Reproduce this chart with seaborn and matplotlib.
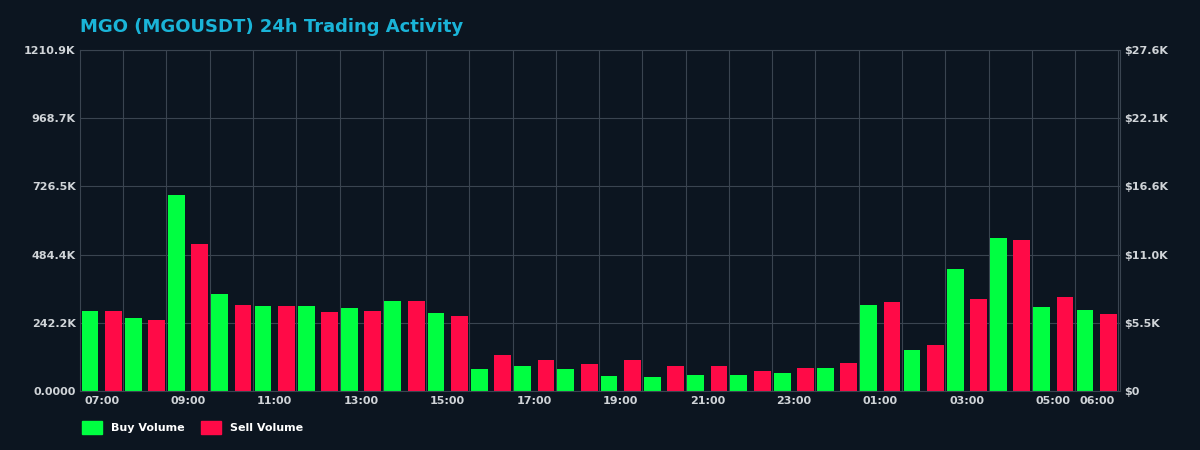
import matplotlib
matplotlib.use("Agg")
import matplotlib.pyplot as plt
import matplotlib.patches as mpatches
import seaborn as sns
import pandas as pd
import numpy as np

hours = ["07:00", "08:00", "09:00", "10:00", "11:00", "12:00", "13:00", "14:00",
         "15:00", "16:00", "17:00", "18:00", "19:00", "20:00", "21:00", "22:00",
         "23:00", "00:00", "01:00", "02:00", "03:00", "04:00", "05:00", "06:00"]
buy_k = [284, 259, 696, 344, 302, 302, 295, 320, 277, 78, 89, 78,
         53, 50, 57, 57, 64, 82, 305, 146, 433, 543, 298, 288]
sell_k = [284, 252, 522, 305, 302, 281, 284, 320, 266, 128, 110, 96,
          110, 89, 89, 71, 82, 99, 316, 163, 327, 536, 334, 273]

BG = "#0c1520"
GREEN = "#00ff41"
RED = "#ff0a47"
TXT = "#d0d4d8"

df = pd.DataFrame({
    "hour": hours * 2,
    "vol": buy_k + sell_k,
    "side": ["Buy Volume"] * 24 + ["Sell Volume"] * 24,
})

sns.set_style("dark")
plt.rcParams["font.family"] = ["DejaVu Sans"]

fig = plt.figure(figsize=(12, 4.5), dpi=100, facecolor=BG)
ax = fig.add_axes([0.067, 0.131, 0.866, 0.758])
ax.set_facecolor(BG)

sns.barplot(data=df, x="hour", y="vol", hue="side", order=hours,
            palette={"Buy Volume": GREEN, "Sell Volume": RED},
            width=1.08, gap=0.28, dodge=True, legend=False, ax=ax,
            saturation=1, linewidth=0)

ymax = 1210.9
ax.set_ylim(0, ymax)
ax.set_xlim(-0.49, 23.53)
yt = np.linspace(0, ymax, 6)
ax.set_yticks(yt)
ax.set_yticklabels(["0.0000"] + [f"{v:.1f}K" for v in yt[1:]])

xt = list(range(0, 23, 2)) + [23]
ax.set_xticks(xt)
ax.set_xticklabels([hours[i] for i in xt])
for i in range(24):
    ax.axvline(i + 0.5, color="#3a4450", lw=0.8, zorder=0)
for v in yt[1:]:
    ax.axhline(v, color="#3a4450", lw=0.8, zorder=0)
ax.grid(False)
ax.set_xlabel("")
ax.set_ylabel("")
ax.tick_params(colors=TXT, labelsize=8, length=0)
for lab in ax.get_xticklabels() + ax.get_yticklabels():
    lab.set_fontweight("bold")
for s in ax.spines.values():
    s.set_color("#3a4450")

ax2 = ax.twinx()
ax2.set_ylim(0, 27.6)
rt = np.linspace(0, 27.6, 6)
ax2.set_yticks(rt)
ax2.set_yticklabels(["$0"] + [f"${v:.1f}K" for v in rt[1:]])
ax2.tick_params(colors=TXT, labelsize=8, length=0)
for lab in ax2.get_yticklabels():
    lab.set_fontweight("bold")
for s in ax2.spines.values():
    s.set_visible(False)

fig.text(0.067, 0.94, "MGO (MGOUSDT) 24h Trading Activity", color="#1ab4d8",
         fontsize=13, fontweight="bold", va="center")

handles = [mpatches.Patch(color=GREEN, label="Buy Volume"),
           mpatches.Patch(color=RED, label="Sell Volume")]
leg = fig.legend(handles=handles, loc="center left", bbox_to_anchor=(0.06, 0.05),
                 ncol=2, frameon=False, fontsize=8, handlelength=1.8,
                 handleheight=1.3, columnspacing=1.5)
for t in leg.get_texts():
    t.set_color("white")
    t.set_fontweight("bold")

fig.savefig("out.png", facecolor=BG)
